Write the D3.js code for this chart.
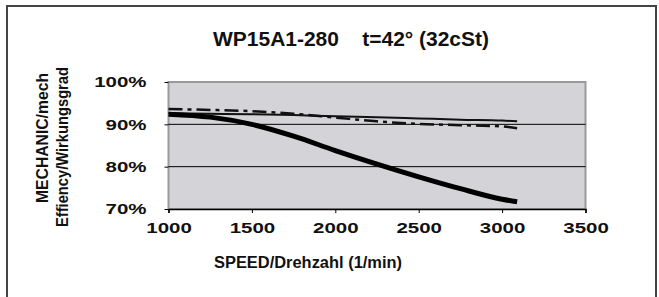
<!DOCTYPE html>
<html>
<head>
<meta charset="utf-8">
<script src="https://cdn.jsdelivr.net/npm/d3@7"></script>
<style>
  body { margin: 0; background: #fff; }
  svg text { font-family: "Liberation Sans", Arial, Helvetica, sans-serif; font-weight: bold; fill: #111; }
</style>
</head>
<body>
<div id="vis"></div>
<script>
// speed (1/min)
var speeds = [1000, 1250, 1500, 1750, 2000, 2250, 2500, 2750, 3000, 3090];
// efficiency curves
var thickVals = [0.924, 0.917, 0.900, 0.872, 0.838, 0.806, 0.776, 0.748, 0.723, 0.717];
var thinVals = [0.926, 0.925, 0.924, 0.922, 0.919, 0.917, 0.914, 0.911, 0.909, 0.907];
var dashVals = [0.936, 0.934, 0.931, 0.925, 0.916, 0.907, 0.901, 0.898, 0.895, 0.891];

var xTicks = [1000, 1500, 2000, 2500, 3000, 3500];
var yTicks = [0.7, 0.8, 0.9, 1.0];
var yTickLabels = ['70%', '80%', '90%', '100%'];

var width = 659;
var height = 297;

var svg = d3.select('#vis').append('svg')
    .attr('width', width)
    .attr('height', height);

// outer frame
svg.append('rect')
    .attr('x', 7).attr('y', 6)
    .attr('width', 649).attr('height', 300)
    .attr('fill', '#fff')
    .attr('stroke', '#444')
    .attr('stroke-width', 2);

var x = d3.scaleLinear().domain([1000, 3500]).range([168.5, 585.5]);
var y = d3.scaleLinear().domain([0.7, 1.0]).range([209, 82]);

// plot area
svg.append('rect')
    .attr('x', x(1000)).attr('y', y(1.0))
    .attr('width', x(3500) - x(1000))
    .attr('height', y(0.7) - y(1.0))
    .attr('fill', '#d4d4d8')
    .attr('stroke', '#9a9a9a')
    .attr('stroke-width', 2);

// grid lines
svg.selectAll('.grid')
    .data([0.8, 0.9])
    .enter().append('line')
    .attr('x1', x(1000)).attr('x2', x(3500))
    .attr('y1', function (d) { return y(d); })
    .attr('y2', function (d) { return y(d); })
    .attr('stroke', '#000')
    .attr('stroke-width', 1);

// x axis
var xAxis = svg.append('g')
    .attr('transform', 'translate(0,' + y(0.7) + ')')
    .call(d3.axisBottom(x).tickValues(xTicks).tickSize(4).tickPadding(9).tickFormat(d3.format('d')));
xAxis.select('.domain').attr('stroke', '#000').attr('stroke-width', 1.5);
xAxis.selectAll('.tick line').attr('stroke', '#000');
xAxis.selectAll('text').style('font-size', '15.5px').attr('fill', '#111');

// y axis
var yAxis = svg.append('g')
    .attr('transform', 'translate(' + x(1000) + ',0)')
    .call(d3.axisLeft(y).tickValues(yTicks).tickSize(4).tickPadding(18)
        .tickFormat(function (d, i) { return yTickLabels[i]; }));
yAxis.select('.domain').remove();
yAxis.selectAll('.tick line').attr('stroke', '#000');
yAxis.selectAll('text').style('font-size', '15.5px').attr('fill', '#111');

// wide lettering like the original
svg.selectAll('.tick text').each(function () {
  var w = this.getComputedTextLength();
  d3.select(this).attr('textLength', w * 1.32).attr('lengthAdjust', 'spacingAndGlyphs');
});

// curves
var line = function (vals) {
  return d3.line()
      .x(function (d, i) { return x(speeds[i]); })
      .y(function (d) { return y(d); })
      .curve(d3.curveMonotoneX)(vals);
};

svg.append('path')
    .attr('d', line(dashVals))
    .attr('fill', 'none')
    .attr('stroke', '#111')
    .attr('stroke-width', 2.5)
    .attr('stroke-dasharray', '14,5,4,5');

svg.append('path')
    .attr('d', line(thinVals))
    .attr('fill', 'none')
    .attr('stroke', '#111')
    .attr('stroke-width', 2);

svg.append('path')
    .attr('d', line(thickVals))
    .attr('fill', 'none')
    .attr('stroke', '#000')
    .attr('stroke-width', 5);

// titles (condensed lettering squeezed to the original widths)
svg.append('text')
    .attr('x', 351).attr('y', 46)
    .attr('text-anchor', 'middle')
    .attr('textLength', 276).attr('lengthAdjust', 'spacingAndGlyphs')
    .style('font-size', '20px')
    .style('white-space', 'pre')
    .text('WP15A1-280    t=42\u00b0 (32cSt)');

svg.append('text')
    .attr('x', 308).attr('y', 268)
    .attr('text-anchor', 'middle')
    .attr('textLength', 188).attr('lengthAdjust', 'spacingAndGlyphs')
    .style('font-size', '16px')
    .text('SPEED/Drehzahl (1/min)');

svg.append('text')
    .attr('transform', 'translate(48,138) rotate(-90)')
    .attr('text-anchor', 'middle')
    .attr('textLength', 130).attr('lengthAdjust', 'spacingAndGlyphs')
    .style('font-size', '17px')
    .text('MECHANIC/mech');

svg.append('text')
    .attr('transform', 'translate(68,147) rotate(-90)')
    .attr('text-anchor', 'middle')
    .attr('textLength', 160).attr('lengthAdjust', 'spacingAndGlyphs')
    .style('font-size', '17px')
    .text('Effiency/Wirkungsgrad');
</script>
</body>
</html>
